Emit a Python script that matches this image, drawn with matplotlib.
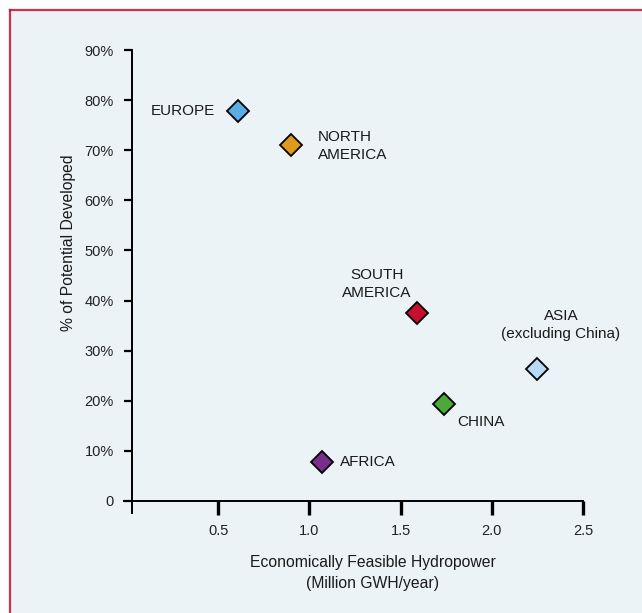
import matplotlib
matplotlib.use("Agg")
import matplotlib.pyplot as plt
from matplotlib.patches import Rectangle
from matplotlib.lines import Line2D

plt.rcParams['font.family'] = ['Liberation Sans', 'DejaVu Sans']

regions = ["EUROPE", "NORTH\nAMERICA", "SOUTH\nAMERICA", "ASIA\n(excluding China)", "CHINA", "AFRICA"]
hydropower = [0.61, 0.90, 1.59, 2.25, 1.74, 1.07]
pct_developed = [77.8, 71.1, 37.5, 26.3, 19.4, 7.8]
colors = ["#5AAEE6", "#E0991F", "#C8102E", "#B8DAF6", "#4EA73A", "#7A2E8C"]
x_ticks = [0.5, 1.0, 1.5, 2.0, 2.5]
x_ticklabels = ["0.5", "1.0", "1.5", "2.0", "2.5"]
y_ticks = [0, 10, 20, 30, 40, 50, 60, 70, 80, 90]
y_ticklabels = ["0", "10%", "20%", "30%", "40%", "50%", "60%", "70%", "80%", "90%"]

# label offsets in points (dx, dy, ha, va)
label_pos = [(-17, 0, 'right', 'center'),
             (19, -1, 'left', 'center'),
             (-29, 21, 'center', 'center'),
             (17, 32, 'center', 'center'),
             (9, -13, 'left', 'center'),
             (13, 0, 'left', 'center')]

W, H = 642, 613
fig = plt.figure(figsize=(W / 100, H / 100), dpi=100, facecolor='white')

# background panel with red top/left border
fig.patches.append(Rectangle((9.5 / W, 0), 1, 1 - 9.5 / H, transform=fig.transFigure,
                             facecolor='#EBF3F6', edgecolor='none', zorder=-10))
fig.lines.append(Line2D([9.5 / W, 9.5 / W], [0, 1 - 9.5 / H], transform=fig.transFigure,
                        color='#C8102E', lw=1.6, alpha=0.85, zorder=-5))
fig.lines.append(Line2D([9.5 / W, 1], [1 - 9.5 / H, 1 - 9.5 / H], transform=fig.transFigure,
                        color='#C8102E', lw=1.6, alpha=0.85, zorder=-5))

ax = fig.add_axes([123.5 / W, 1 - 513 / H, 459.5 / W, 462.9 / H])
ax.set_facecolor('none')
ax.set_xlim(-0.02, 2.5)
ax.set_ylim(-2.4, 90)

for s in ['top', 'right']:
    ax.spines[s].set_visible(False)
ax.spines['left'].set_position(('data', 0.025))
ax.spines['bottom'].set_position(('data', 0))
ax.spines['left'].set_linewidth(1.4)
ax.spines['bottom'].set_linewidth(1.4)

ax.set_xticks(x_ticks)
ax.set_xticklabels(x_ticklabels)
ax.set_yticks(y_ticks)
ax.set_yticklabels(y_ticklabels)
ax.tick_params(axis='x', direction='out', length=10, width=2.4, pad=6.5, labelsize=10.5, colors='black')
ax.tick_params(axis='y', direction='out', length=6, width=1.6, pad=7, labelsize=10.5, colors='black')
for t in ax.get_yticklabels() + ax.get_xticklabels():
    t.set_color('#222222')

for name, x, y, c, (dx, dy, ha, va) in zip(regions, hydropower, pct_developed, colors, label_pos):
    ax.plot([x], [y], marker='D', markersize=11.5, markerfacecolor=c,
            markeredgecolor='black', markeredgewidth=1.3, linestyle='none', zorder=5,
            clip_on=False)
    ax.annotate(name, (x, y), xytext=(dx, dy), textcoords='offset points',
                ha=ha, va=va, fontsize=11, color='#1a1a1a', linespacing=1.35,
                multialignment='center' if ha == 'center' else 'left')

fig.text(68 / W, 1 - 243 / H, "% of Potential Developed", rotation=90,
         ha='center', va='center', fontsize=11.3, color='#1a1a1a')
fig.text(373 / W, 1 - 573 / H, "Economically Feasible Hydropower\n(Million GWH/year)",
         ha='center', va='center', fontsize=11.3, color='#1a1a1a', linespacing=1.45)

fig.savefig("out.png", dpi=100, facecolor='white')
